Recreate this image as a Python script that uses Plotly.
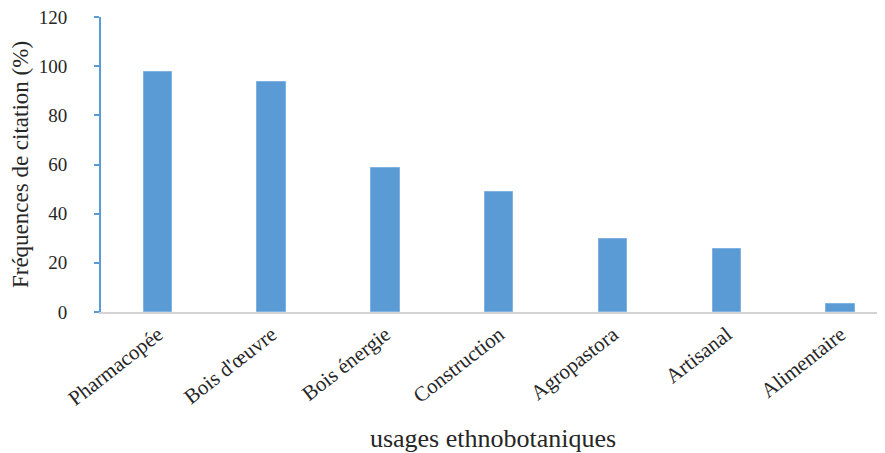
import plotly.graph_objects as go

categories = ["Pharmacopée", "Bois d'œuvre", "Bois énergie", "Construction",
              "Agropastora", "Artisanal", "Alimentaire"]
frequencies = [97.7, 93.5, 58.5, 48.7, 29.5, 25.5, 3.4]
y_ticks = [0, 20, 40, 60, 80, 100, 120]

BLUE = "#5B9BD5"
TXT = "#262626"
FONT = "Liberation Serif"

fig = go.Figure()
fig.add_trace(go.Bar(
    x=list(range(len(categories))), y=frequencies, width=0.25,
    marker=dict(color=BLUE, line=dict(color="#7FB2E0", width=1)),
    showlegend=False,
))

fig.update_layout(
    width=877, height=445,
    margin=dict(l=93, r=0, t=9, b=141, autoexpand=False),
    paper_bgcolor="white", plot_bgcolor="white",
    font=dict(family=FONT, color=TXT),
    bargap=0,
    xaxis=dict(
        range=[-0.5, 6.39], automargin=False,
        tickmode="array", tickvals=list(range(len(categories))), ticktext=categories,
        tickangle=-38, tickfont=dict(size=21, family=FONT, color=TXT),
        showline=True, linecolor="#D3D3D3", linewidth=2,
        ticks="", showgrid=False, zeroline=False,
        title=dict(text="usages ethnobotaniques", font=dict(size=26, family=FONT, color=TXT), standoff=20),
    ),
    yaxis=dict(
        range=[0, 120], tickmode="array", tickvals=y_ticks, automargin=False,
        tickfont=dict(size=19, family=FONT, color=TXT),
        ticklabeloverflow="allow",
        showline=True, linecolor=BLUE, linewidth=2,
        ticks="outside", ticklen=5, tickcolor=BLUE, tickwidth=2,
        ticklabelstandoff=23,
        showgrid=False, zeroline=False,
        title=dict(text="Fréquences de citation (%)", font=dict(size=23, family=FONT, color=TXT), standoff=4),
    ),
    yaxis2=dict(
        range=[0, 120], overlaying="y", side="left", anchor="x", automargin=False,
        tickmode="array", tickvals=y_ticks, showticklabels=False,
        ticks="inside", ticklen=4, tickcolor=BLUE, tickwidth=2,
        showline=False, showgrid=False, zeroline=False,
    ),
)

fig.write_html("out.html")
